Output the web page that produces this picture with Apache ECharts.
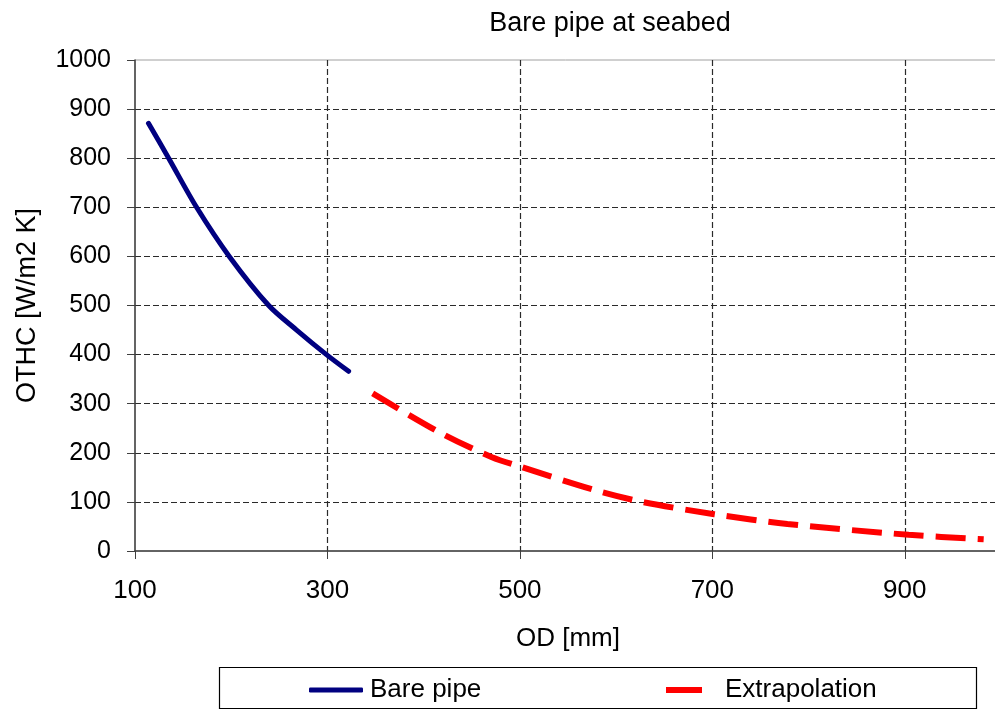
<!DOCTYPE html>
<html>
<head>
<meta charset="utf-8">
<script src="https://cdn.jsdelivr.net/npm/echarts@6/dist/echarts.min.js"></script>
<style>
  html, body { margin: 0; padding: 0; background: #fff; }
  #chart { width: 995px; height: 709px; }
</style>
</head>
<body>
<div id="chart"></div>
<script>
// data: [OD mm, OTHC W/m2 K]
const bareOD = [114, 135, 164, 198, 239, 268, 299, 322];
const bareOTHC = [871, 800, 700, 600, 500, 450, 400, 366];
const extraOD = [347, 418, 471, 500, 578, 627, 702, 778, 904, 982];
const extraOTHC = [321, 240, 191, 172, 124, 100, 75, 55, 33, 24];

const font = 'Liberation Sans, Arial, sans-serif';
const zip = (xs, ys) => xs.map((x, i) => [x, ys[i]]);

const chart = echarts.init(document.getElementById('chart'));
window.addEventListener('resize', function () {
  chart.resize();
});

chart.setOption({
  animation: false,
  title: {
    text: 'Bare pipe at seabed',
    left: 610,
    top: 10,
    padding: 0,
    textAlign: 'center',
    textStyle: { fontFamily: font, fontSize: 27, fontWeight: 'normal', color: '#000' }
  },
  // plot runs a few px past the right edge of the picture, as in the reference
  grid: {
    left: 135, width: 866, top: 60, bottom: 158,
    outerBoundsMode: 'none',
    show: true, borderColor: '#a0a0a0', borderWidth: 1
  },
  legend: [
    {
      data: [{ name: 'Bare pipe', icon: 'roundRect' }],
      left: 309, top: 675,
      itemWidth: 54, itemHeight: 5, padding: 0,
      itemStyle: { color: '#000080', borderWidth: 0 },
      textStyle: { fontFamily: font, fontSize: 26, color: '#000', lineHeight: 30, padding: [0, 0, 0, 2] }
    },
    {
      data: [{ name: 'Extrapolation', icon: 'rect' }],
      left: 666, top: 675,
      itemWidth: 36, itemHeight: 6, padding: 0,
      itemStyle: { color: '#ff0000', borderWidth: 0 },
      textStyle: { fontFamily: font, fontSize: 26, color: '#000', lineHeight: 30, padding: [0, 0, 0, 18] }
    }
  ],
  graphic: [{
    type: 'rect',
    shape: { x: 219.5, y: 667.5, width: 757, height: 41 },
    style: { fill: 'none', stroke: '#000', lineWidth: 1.2 }
  }],
  xAxis: {
    type: 'value',
    min: 100, max: 1000, interval: 200,
    name: 'OD [mm]',
    nameLocation: 'middle',
    nameGap: 75,
    nameTextStyle: { fontFamily: font, fontSize: 26, color: '#000' },
    axisLine: { show: true, lineStyle: { color: '#404040', width: 1.5 } },
    axisTick: { show: true, inside: false, length: 8, lineStyle: { color: '#404040' } },
    axisLabel: {
      margin: 27, fontFamily: font, fontSize: 26, color: '#000',
      showMaxLabel: false,
      formatter: (v) => String(v)
    },
    splitLine: {
      show: true, showMinLine: false, showMaxLine: false,
      lineStyle: { color: '#2a2a2a', type: [6, 3], width: 1.2 }
    }
  },
  yAxis: {
    type: 'value',
    min: 0, max: 1000, interval: 100,
    name: 'OTHC [W/m2 K]',
    nameLocation: 'middle',
    nameGap: 94,
    nameRotate: 90,
    nameTextStyle: { fontFamily: font, fontSize: 27, color: '#000' },
    axisLine: { show: true, lineStyle: { color: '#404040', width: 1.5 } },
    axisTick: { show: true, inside: false, length: 8, lineStyle: { color: '#404040' } },
    axisLabel: {
      margin: 24, fontFamily: font, fontSize: 25, color: '#000',
      formatter: (v) => String(v)
    },
    splitLine: {
      show: true, showMinLine: false, showMaxLine: false,
      lineStyle: { color: '#2a2a2a', type: [6, 3], width: 1.2 }
    }
  },
  series: [
    {
      name: 'Bare pipe',
      type: 'line',
      data: zip(bareOD, bareOTHC),
      smooth: 0.3,
      symbol: 'none',
      color: '#000080',
      lineStyle: { color: '#000080', width: 5, cap: 'round' },
      z: 3
    },
    {
      name: 'Extrapolation',
      type: 'line',
      data: zip(extraOD, extraOTHC),
      smooth: 0.3,
      symbol: 'none',
      color: '#ff0000',
      lineStyle: { color: '#ff0000', width: 6, type: [30, 12], cap: 'butt' },
      z: 3
    }
  ]
});
</script>
</body>
</html>
